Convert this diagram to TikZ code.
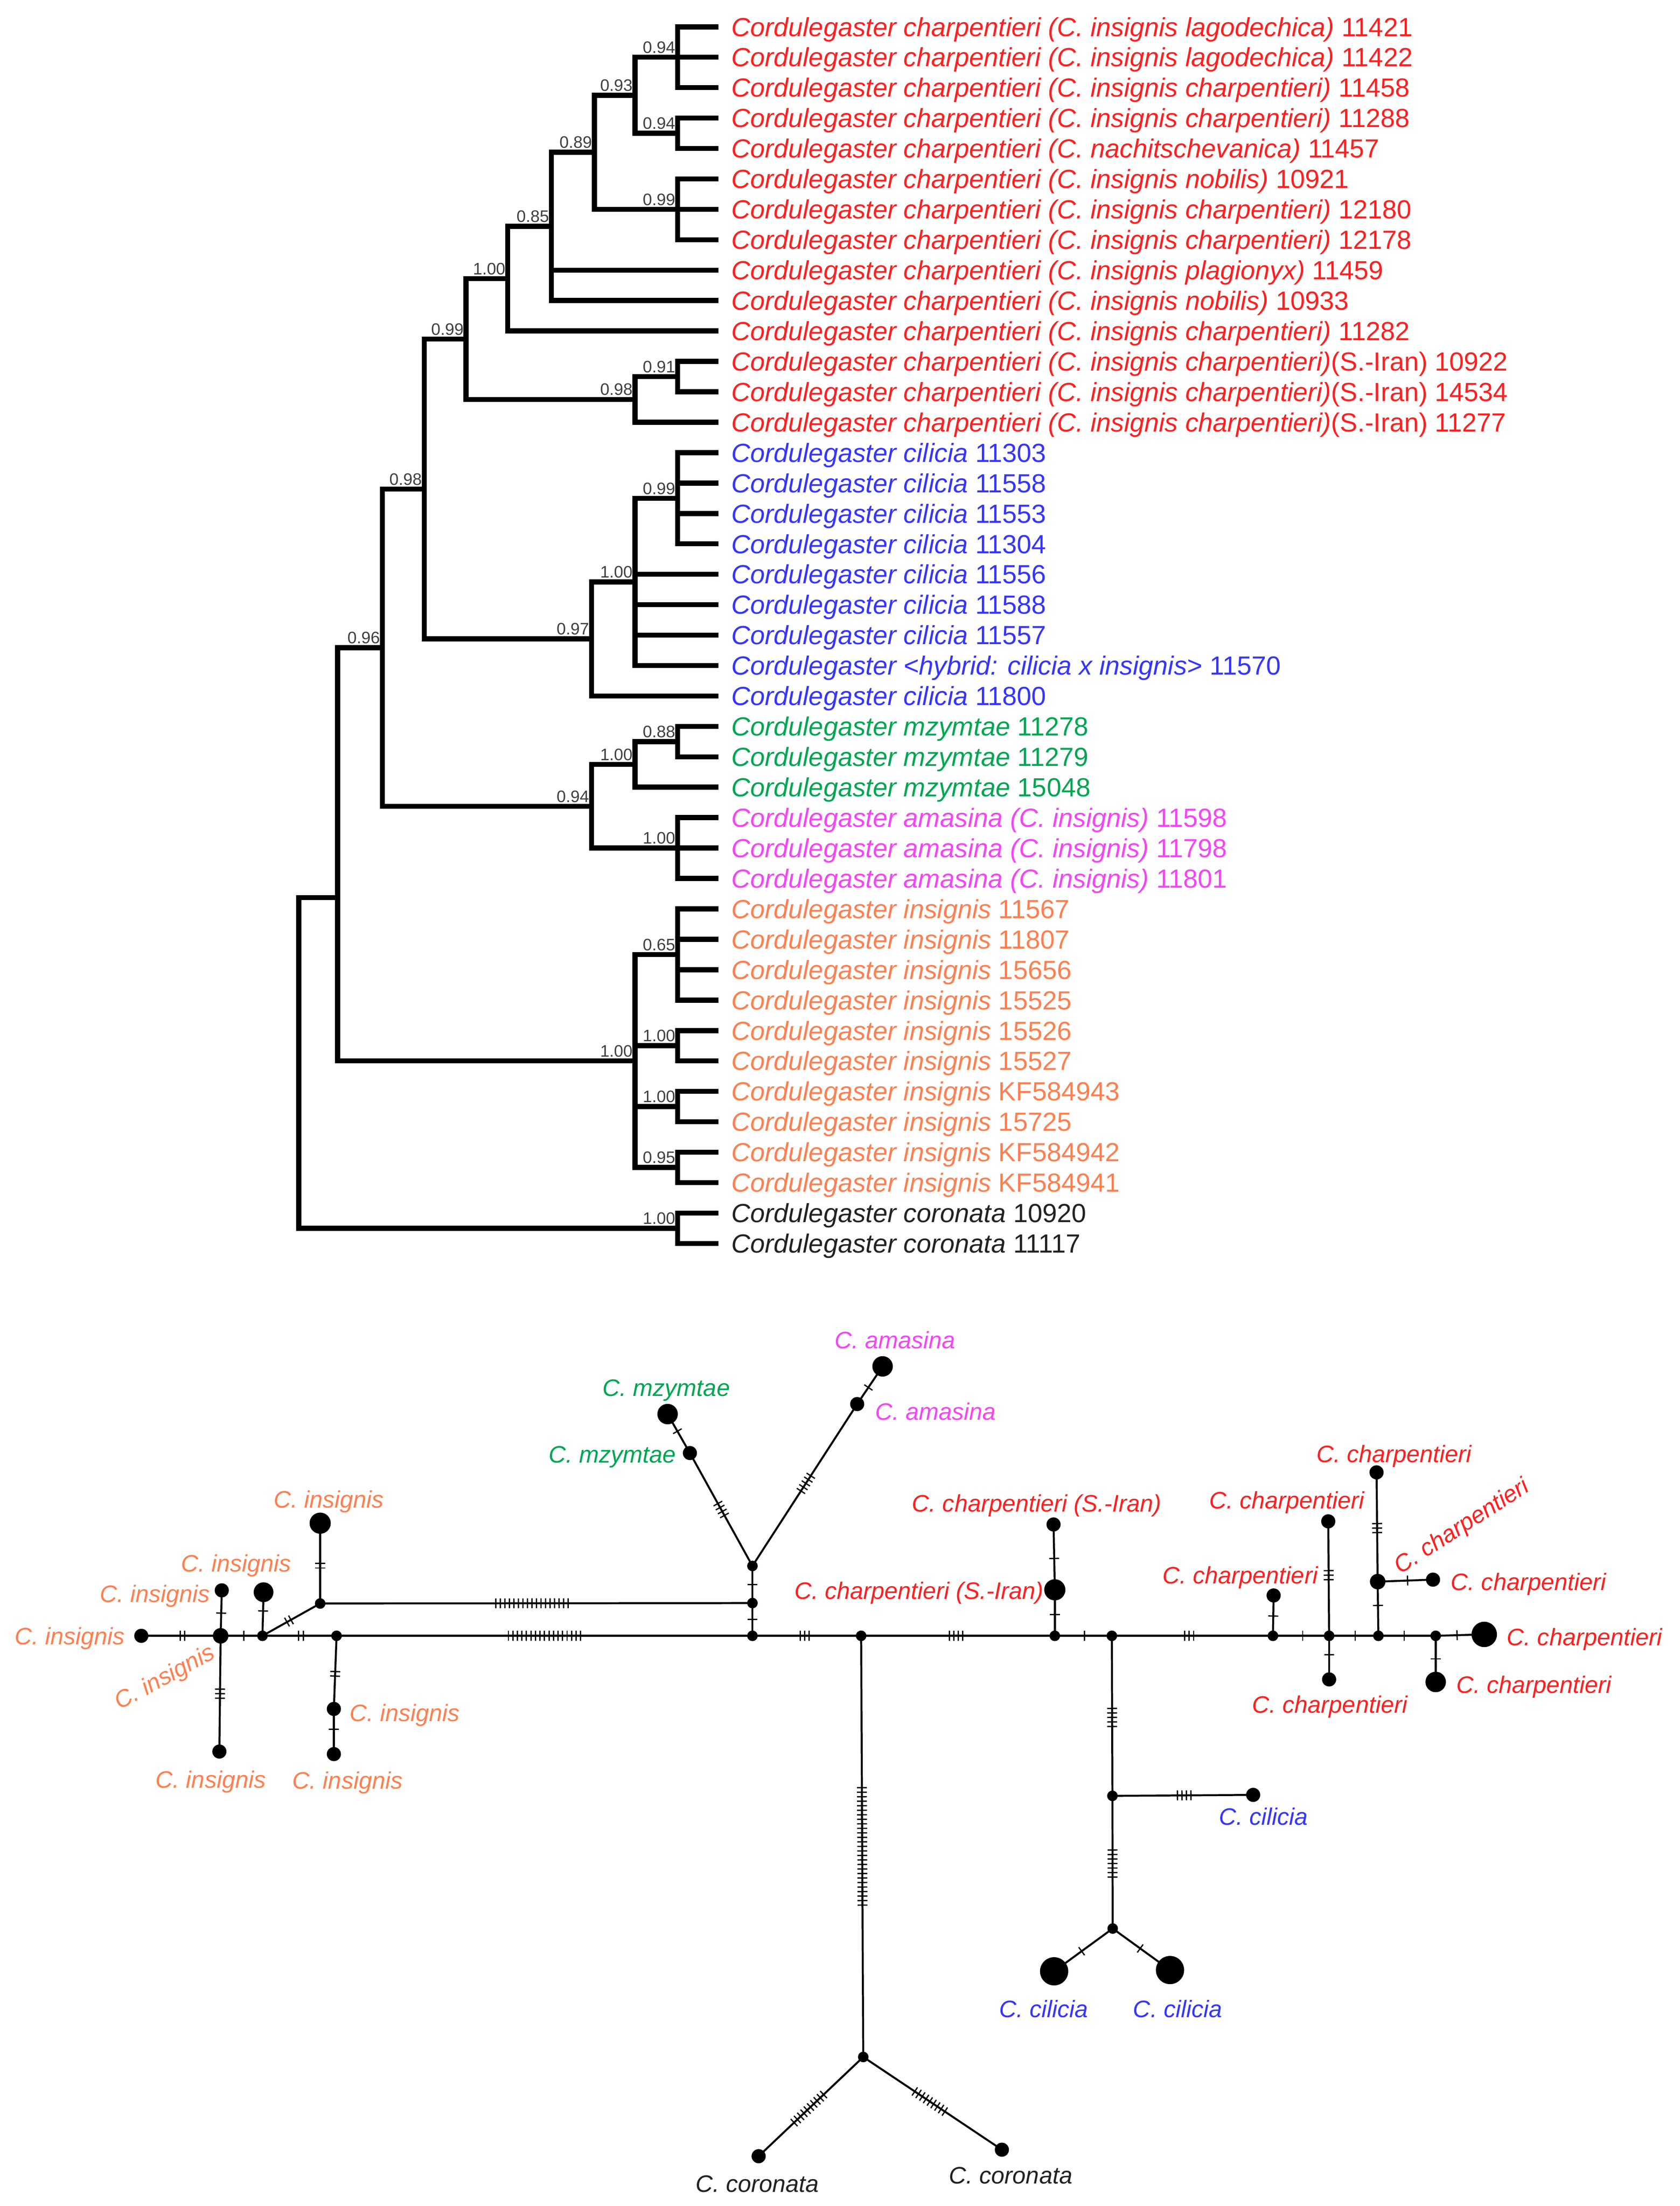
\documentclass[tikz,border=0pt]{standalone}
\usepackage{fontspec}
\setmainfont{Liberation Sans}
\usetikzlibrary{calc}
\definecolor{cred}{HTML}{FF2020}
\definecolor{cblue}{HTML}{3535FF}
\definecolor{cgreen}{HTML}{00A651}
\definecolor{cpink}{HTML}{F545F5}
\definecolor{corange}{HTML}{FF7F50}
\definecolor{cblack}{HTML}{222222}
\definecolor{csup}{HTML}{404040}
\newcount\tkcnt
\newcommand\tks[1]{\tkcnt=0\relax\loop\ifnum\tkcnt<#1\relax\ifnum\tkcnt>0\relax\hspace{2.3pt}\fi\rule[-3.5pt]{0.9pt}{7pt}\advance\tkcnt by 1\relax\repeat}
\newcommand\leaf[4]{\node[tl,text=#2] (t#1) at (518,{19+21.55*#1}) {{\itshape #3}#4};}
\newcommand\sv[2]{\node[suplab] (s#1) at (#1) {#2};}
\newcommand\edge[4]{\draw[net] (#1.center) -- (#2.center) node[tk,pos=#3]{\tks{#4}};}
\begin{document}
\begin{tikzpicture}[x=1pt,y=-1pt,
  tl/.style={anchor=west,inner sep=0pt,text height=13.3pt,text depth=0pt,font=\fontsize{18.6}{22}\selectfont},
  suplab/.style={anchor=south east,inner sep=0pt,xshift=-1.5pt,yshift=2.6pt,text=csup,font=\fontsize{11.8}{14}\selectfont},
  tr/.style={line width=3.6pt,line cap=rect,line join=miter},
  net/.style={line width=1.4pt},
  tk/.style={sloped,inner sep=0pt,anchor=center},
  hap/.style={circle,fill=black,inner sep=0pt,minimum size=#1},
  mv/.style={circle,fill=black,inner sep=0pt,minimum size=7.5pt},
  nl/.style={inner sep=0pt,text height=12.1pt,text depth=0pt,font=\fontsize{16.9}{20}\selectfont\itshape}]
\useasboundingbox (0,0) rectangle (1190,1563);
\fill[white] (0,0) rectangle (1190,1563);
% ---------------- tree ----------------
\foreach \i in {0,...,40} \coordinate (l\i) at (507,{19+21.55*\i});
\coordinate (n1) at (480,40.55);
\coordinate (n2) at (480,94.43);
\coordinate (n3) at (449.8,67.49);
\coordinate (n4) at (480,148.3);
\coordinate (n5) at (421,107.9);
\coordinate (n6) at (390.6,160.42);
\coordinate (n7) at (359.7,197.46);
\coordinate (n8) at (480,266.83);
\coordinate (n9) at (449.8,282.99);
\coordinate (n10) at (330.1,240.22);
\coordinate (n11) at (480,353.03);
\coordinate (n12) at (449.8,412.29);
\coordinate (n13) at (419,452.69);
\coordinate (n14) at (300.5,346.46);
\coordinate (n15) at (480,525.43);
\coordinate (n16) at (449.8,541.59);
\coordinate (n17) at (480,600.85);
\coordinate (n18) at (419,571.22);
\coordinate (n19) at (270.8,458.84);
\coordinate (n20) at (480,676.28);
\coordinate (n21) at (480,740.93);
\coordinate (n22) at (480,784.03);
\coordinate (n23) at (480,827.13);
\coordinate (n24) at (449.8,751.7);
\coordinate (n25) at (239.2,636);
\coordinate (n26) at (480,870.23);
\coordinate (rt) at (211.6,753);
\foreach \p/\c in {n1/l0,n1/l1,n1/l2,n2/l3,n2/l4,n3/n1,n3/n2,n4/l5,n4/l6,n4/l7,n5/n3,n5/n4,
  n6/n5,n6/l8,n6/l9,n7/n6,n7/l10,n8/l11,n8/l12,n9/n8,n9/l13,n10/n7,n10/n9,
  n11/l14,n11/l15,n11/l16,n11/l17,n12/n11,n12/l18,n12/l19,n12/l20,n12/l21,n13/n12,n13/l22,
  n14/n10,n14/n13,n15/l23,n15/l24,n16/n15,n16/l25,n17/l26,n17/l27,n17/l28,n18/n16,n18/n17,
  n19/n14,n19/n18,n20/l29,n20/l30,n20/l31,n20/l32,n21/l33,n21/l34,n22/l35,n22/l36,n23/l37,n23/l38,
  n24/n20,n24/n21,n24/n22,n24/n23,n25/n19,n25/n24,n26/l39,n26/l40,rt/n25,rt/n26}
  \draw[tr] (\p) |- (\c);
\sv{n1}{0.94}\sv{n2}{0.94}\sv{n3}{0.93}\sv{n4}{0.99}\sv{n5}{0.89}\sv{n6}{0.85}\sv{n7}{1.00}
\sv{n8}{0.91}\sv{n9}{0.98}\sv{n10}{0.99}\sv{n11}{0.99}\sv{n12}{1.00}\sv{n13}{0.97}\sv{n14}{0.98}
\sv{n15}{0.88}\sv{n16}{1.00}\sv{n17}{1.00}\sv{n18}{0.94}\sv{n19}{0.96}\sv{n20}{0.65}\sv{n21}{1.00}
\sv{n22}{1.00}\sv{n23}{0.95}\sv{n24}{1.00}\sv{n26}{1.00}
\leaf{0}{cred}{Cordulegaster charpentieri (C. insignis lagodechica)}{~11421}
\leaf{1}{cred}{Cordulegaster charpentieri (C. insignis lagodechica)}{~11422}
\leaf{2}{cred}{Cordulegaster charpentieri (C. insignis charpentieri)}{~11458}
\leaf{3}{cred}{Cordulegaster charpentieri (C. insignis charpentieri)}{~11288}
\leaf{4}{cred}{Cordulegaster charpentieri (C. nachitschevanica)}{~11457}
\leaf{5}{cred}{Cordulegaster charpentieri (C. insignis nobilis)}{~10921}
\leaf{6}{cred}{Cordulegaster charpentieri (C. insignis charpentieri)}{~12180}
\leaf{7}{cred}{Cordulegaster charpentieri (C. insignis charpentieri)}{~12178}
\leaf{8}{cred}{Cordulegaster charpentieri (C. insignis plagionyx)}{~11459}
\leaf{9}{cred}{Cordulegaster charpentieri (C. insignis nobilis)}{~10933}
\leaf{10}{cred}{Cordulegaster charpentieri (C. insignis charpentieri)}{~11282}
\leaf{11}{cred}{Cordulegaster charpentieri (C. insignis charpentieri)}{(S.-Iran)~10922}
\leaf{12}{cred}{Cordulegaster charpentieri (C. insignis charpentieri)}{(S.-Iran)~14534}
\leaf{13}{cred}{Cordulegaster charpentieri (C. insignis charpentieri)}{(S.-Iran)~11277}
\leaf{14}{cblue}{Cordulegaster cilicia}{~11303}
\leaf{15}{cblue}{Cordulegaster cilicia}{~11558}
\leaf{16}{cblue}{Cordulegaster cilicia}{~11553}
\leaf{17}{cblue}{Cordulegaster cilicia}{~11304}
\leaf{18}{cblue}{Cordulegaster cilicia}{~11556}
\leaf{19}{cblue}{Cordulegaster cilicia}{~11588}
\leaf{20}{cblue}{Cordulegaster cilicia}{~11557}
\leaf{21}{cblue}{Cordulegaster <hybrid: cilicia x insignis>}{~11570}
\leaf{22}{cblue}{Cordulegaster cilicia}{~11800}
\leaf{23}{cgreen}{Cordulegaster mzymtae}{~11278}
\leaf{24}{cgreen}{Cordulegaster mzymtae}{~11279}
\leaf{25}{cgreen}{Cordulegaster mzymtae}{~15048}
\leaf{26}{cpink}{Cordulegaster amasina (C. insignis)}{~11598}
\leaf{27}{cpink}{Cordulegaster amasina (C. insignis)}{~11798}
\leaf{28}{cpink}{Cordulegaster amasina (C. insignis)}{~11801}
\leaf{29}{corange}{Cordulegaster insignis}{~11567}
\leaf{30}{corange}{Cordulegaster insignis}{~11807}
\leaf{31}{corange}{Cordulegaster insignis}{~15656}
\leaf{32}{corange}{Cordulegaster insignis}{~15525}
\leaf{33}{corange}{Cordulegaster insignis}{~15526}
\leaf{34}{corange}{Cordulegaster insignis}{~15527}
\leaf{35}{corange}{Cordulegaster insignis}{~KF584943}
\leaf{36}{corange}{Cordulegaster insignis}{~15725}
\leaf{37}{corange}{Cordulegaster insignis}{~KF584942}
\leaf{38}{corange}{Cordulegaster insignis}{~KF584941}
\leaf{39}{cblack}{Cordulegaster coronata}{~10920}
\leaf{40}{cblack}{Cordulegaster coronata}{~11117}
% ---------------- network ----------------
\node[hap=10pt] (iL) at (100.1,1159) {};
\node[hap=11pt] (A) at (156.3,1159) {};
\node[hap=10pt] (Au) at (157.1,1126.8) {};
\node[hap=10pt] (Ad) at (155.4,1241) {};
\node[mv] (B) at (185.9,1159) {};
\node[hap=14pt] (Bu) at (186.7,1128.1) {};
\node[mv] (C) at (226.8,1136.1) {};
\node[hap=15pt] (Cu) at (226.8,1079.2) {};
\node[mv] (E) at (238.4,1159) {};
\node[hap=10pt] (Ed1) at (236.5,1210.8) {};
\node[hap=10pt] (Ed2) at (236.5,1242.8) {};
\node[mv] (D) at (533,1109.5) {};
\node[mv] (D2) at (533,1135.8) {};
\node[mv] (D3) at (533,1159) {};
\node[hap=10pt] (mz1) at (488.7,1029.5) {};
\node[hap=14.5pt] (mz2) at (472.9,1001.9) {};
\node[hap=10pt] (am1) at (607.2,994.8) {};
\node[hap=14.5pt] (am2) at (625.2,968.1) {};
\node[mv] (F) at (610,1159) {};
\node[mv] (G) at (747.2,1159) {};
\node[hap=15pt] (Gb) at (747.2,1126.4) {};
\node[hap=10pt] (Gt) at (746.3,1080.1) {};
\node[mv] (H) at (787.6,1159) {};
\node[mv] (I) at (901.7,1159) {};
\node[hap=10pt] (Iu) at (902.2,1130.4) {};
\node[mv] (J) at (941.5,1159) {};
\node[hap=10pt] (Ju) at (940.9,1077.9) {};
\node[hap=10pt] (Jd) at (941.5,1189.9) {};
\node[mv] (K) at (976.4,1159) {};
\node[hap=11pt] (L) at (975.9,1120.6) {};
\node[hap=10pt] (Lu) at (975.1,1043.2) {};
\node[hap=10pt] (Lr) at (1015.1,1119.2) {};
\node[mv] (M) at (1017,1159) {};
\node[hap=14.5pt] (Md) at (1017,1191.7) {};
\node[hap=18pt] (R) at (1051.4,1158) {};
\node[mv] (N) at (788,1272.4) {};
\node[hap=10pt] (Nr) at (887.7,1271.7) {};
\node[mv] (O) at (788.2,1366.4) {};
\node[hap=20pt] (Ol) at (746.7,1396.7) {};
\node[hap=20pt] (Or) at (828.8,1395.8) {};
\node[mv] (P) at (611.5,1457.4) {};
\node[hap=10pt] (Pl) at (537.4,1527.7) {};
\node[hap=10pt] (Pr) at (709.7,1523.1) {};
\edge{iL}{A}{0.52}{2}
\edge{A}{Au}{0.5}{1}
\edge{A}{Ad}{0.5}{3}
\edge{A}{B}{0.55}{1}
\edge{B}{Bu}{0.57}{1}
\edge{B}{C}{0.46}{2}
\edge{C}{Cu}{0.47}{2}
\edge{C}{D2}{0.49}{17}
\edge{B}{E}{0.52}{2}
\edge{E}{D3}{0.5}{17}
\edge{E}{Ed1}{0.52}{2}
\edge{Ed1}{Ed2}{0.45}{1}
\edge{D}{D2}{0.5}{1}
\edge{D2}{D3}{0.5}{1}
\edge{D}{mz1}{0.5}{4}
\edge{mz1}{mz2}{0.56}{1}
\edge{D}{am1}{0.51}{5}
\edge{am1}{am2}{0.44}{1}
\edge{D3}{F}{0.48}{3}
\edge{F}{G}{0.49}{4}
\edge{G}{Gb}{0.46}{1}
\edge{Gb}{Gt}{0.48}{1}
\edge{G}{H}{0.52}{1}
\edge{H}{I}{0.48}{3}
\edge{I}{Iu}{0.49}{1}
\edge{I}{J}{0.53}{1}
\edge{J}{Ju}{0.53}{3}
\edge{J}{Jd}{0.43}{1}
\edge{J}{K}{0.53}{1}
\edge{K}{L}{0.56}{1}
\edge{L}{Lu}{0.49}{3}
\edge{L}{Lr}{0.54}{1}
\edge{K}{M}{0.45}{1}
\edge{M}{Md}{0.5}{1}
\edge{M}{R}{0.44}{1}
\edge{H}{N}{0.51}{5}
\edge{N}{Nr}{0.51}{4}
\edge{N}{O}{0.51}{7}
\edge{O}{Ol}{0.53}{1}
\edge{O}{Or}{0.48}{1}
\edge{F}{P}{0.5}{27}
\edge{P}{Pl}{0.52}{10}
\edge{P}{Pr}{0.48}{9}
% labels
\node[nl,text=corange,anchor=east] (x1) at (88.5,1159) {C. insignis};
\node[nl,text=corange,anchor=east] (x2) at (149,1129) {C. insignis};
\node[nl,text=corange] (x3) at (167.3,1107.6) {C. insignis};
\node[nl,text=corange] (x4) at (233,1062.3) {C. insignis};
\node[nl,text=corange,rotate=28.5] (x5) at (116.2,1187.7) {C. insignis};
\node[nl,text=corange] (x6) at (149.3,1260.6) {C. insignis};
\node[nl,text=corange,anchor=west] (x7) at (247.6,1213.4) {C. insignis};
\node[nl,text=corange] (x8) at (246.2,1261.4) {C. insignis};
\node[nl,text=cgreen,anchor=east] (x9) at (479,1030.4) {C. mzymtae};
\node[nl,text=cgreen] (x10) at (472,983.2) {C. mzymtae};
\node[nl,text=cpink,anchor=west] (x11) at (619.8,1000.1) {C. amasina};
\node[nl,text=cpink] (x12) at (634,949.5) {C. amasina};
\node[nl,text=cred,anchor=east] (x13) at (739.5,1126.8) {C. charpentieri (S.-Iran)};
\node[nl,text=cred] (x14) at (734.4,1065) {C. charpentieri (S.-Iran)};
\node[nl,text=cred] (x15) at (878.5,1116.1) {C. charpentieri};
\node[nl,text=cred] (x16) at (911.6,1062.8) {C. charpentieri};
\node[nl,text=cred] (x17) at (942,1207.7) {C. charpentieri};
\node[nl,text=cred,rotate=32.8] (x18) at (1034.9,1080.6) {C. charpentieri};
\node[nl,text=cred] (x19) at (987.5,1029.9) {C. charpentieri};
\node[nl,text=cred,anchor=west] (x20) at (1027.6,1120.6) {C. charpentieri};
\node[nl,text=cred,anchor=west] (x21) at (1031.5,1193.5) {C. charpentieri};
\node[nl,text=cred,anchor=west] (x22) at (1067.3,1159.7) {C. charpentieri};
\node[nl,text=cblue] (x23) at (895,1287) {C. cilicia};
\node[nl,text=cblue] (x24) at (739.2,1423.3) {C. cilicia};
\node[nl,text=cblue] (x25) at (834.2,1423.3) {C. cilicia};
\node[nl,text=cblack] (x26) at (536.4,1547) {C. coronata};
\node[nl,text=cblack] (x27) at (716,1541) {C. coronata};
\end{tikzpicture}
\end{document}
